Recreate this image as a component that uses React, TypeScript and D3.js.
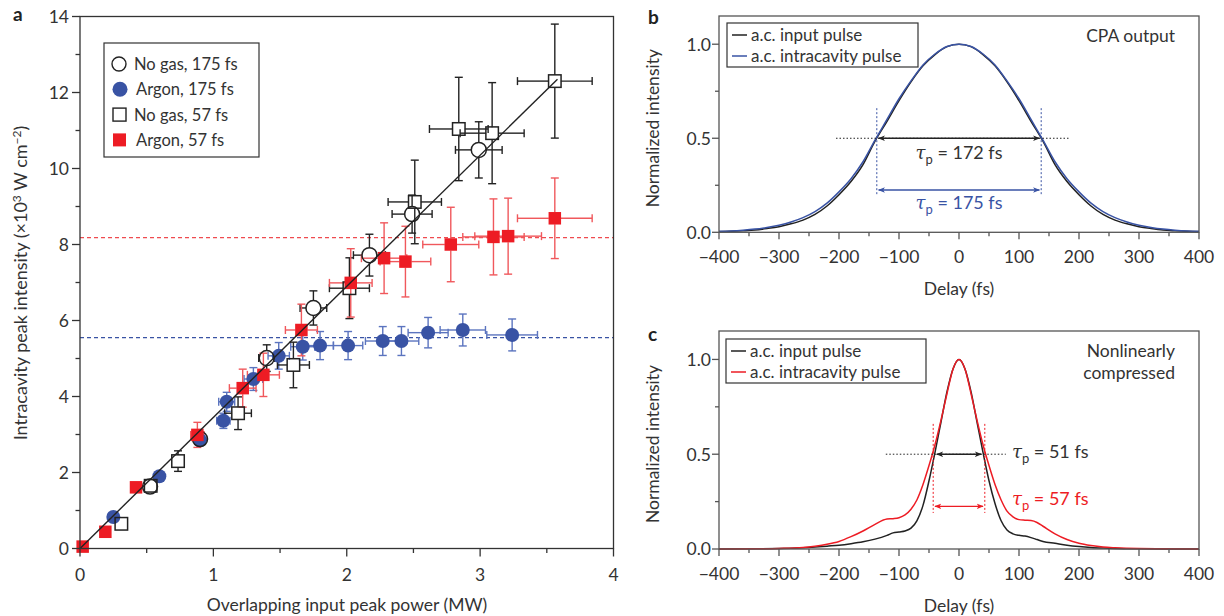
import React from 'react';
import * as d3 from 'd3';

// ---------- Panel a data ----------
const noGas175X = [0.525, 0.9, 1.40, 1.75, 2.17, 2.49, 2.99];
const noGas175Y = [1.63, 2.88, 5.01, 6.33, 7.72, 8.8, 10.49];
const noGas175XErr = [0.03, 0.04, 0.06, 0.1, 0.12, 0.15, 0.175];
const noGas175YErr = [0.08, 0.15, 0.35, 0.45, 0.55, 0.5, 0.74];

const argon175X = [0.25, 0.595, 0.9, 1.075, 1.1, 1.3, 1.49, 1.67, 1.8, 2.01, 2.27, 2.41, 2.61, 2.87, 3.24];
const argon175Y = [0.83, 1.9, 2.85, 3.36, 3.86, 4.46, 5.07, 5.31, 5.34, 5.34, 5.46, 5.46, 5.68, 5.75, 5.62];
const argon175XErr = [0.02, 0.03, 0.04, 0.05, 0.06, 0.07, 0.08, 0.09, 0.1, 0.11, 0.13, 0.13, 0.15, 0.17, 0.19];
const argon175YErr = [0.05, 0.08, 0.15, 0.2, 0.25, 0.3, 0.35, 0.35, 0.37, 0.37, 0.38, 0.38, 0.4, 0.42, 0.42];

const noGas57X = [0.31, 0.53, 0.735, 1.185, 1.6, 2.02, 2.51, 2.84, 3.09, 3.56];
const noGas57Y = [0.65, 1.65, 2.3, 3.56, 4.83, 6.85, 9.12, 11.04, 10.93, 12.3];
const noGas57XErr = [0.03, 0.03, 0.03, 0.1, 0.12, 0.15, 0.2, 0.22, 0.24, 0.28];
const noGas57YErr = [0.1, 0.1, 0.27, 0.43, 0.6, 0.8, 1.1, 1.36, 1.33, 1.5];

const argon57X = [0.02, 0.19, 0.42, 0.88, 1.22, 1.375, 1.66, 2.03, 2.28, 2.44, 2.78, 3.1, 3.21, 3.56];
const argon57Y = [0.05, 0.44, 1.61, 2.99, 4.22, 4.57, 5.75, 6.99, 7.64, 7.55, 8.0, 8.2, 8.22, 8.69];
const argon57XErr = [0.01, 0.02, 0.03, 0.05, 0.1, 0.12, 0.12, 0.16, 0.17, 0.19, 0.21, 0.23, 0.25, 0.28];
const argon57YErr = [0.03, 0.05, 0.15, 0.33, 0.5, 0.57, 0.68, 0.9, 0.93, 0.93, 0.98, 1.0, 1.0, 1.06];

const fitX = [0, 3.58];
const fitY = [0, 12.35];
const argon175Level = 5.55;
const argon57Level = 8.18;

const aXTicks = [0, 1, 2, 3, 4];
const aYTicks = [0, 2, 4, 6, 8, 10, 12, 14];
const legendA = ['No gas, 175 fs', 'Argon, 175 fs', 'No gas, 57 fs', 'Argon, 57 fs'];

// ---------- Panel b data ----------
const delayB = [-400, -380, -360, -340, -320, -300, -280, -260, -240, -220, -200, -180, -160, -140, -120, -100, -80, -60, -40, -20, 0,
  20, 40, 60, 80, 100, 120, 140, 160, 180, 200, 220, 240, 260, 280, 300, 320, 340, 360, 380, 400];
const inputB = [0.003, 0.005, 0.008, 0.012, 0.02, 0.03, 0.045, 0.065, 0.095, 0.14, 0.2, 0.27, 0.36, 0.485, 0.59, 0.7, 0.8, 0.885, 0.945, 0.987, 1.0,
  0.987, 0.945, 0.885, 0.8, 0.7, 0.59, 0.485, 0.36, 0.27, 0.2, 0.14, 0.095, 0.065, 0.045, 0.03, 0.02, 0.012, 0.008, 0.005, 0.003];
const intraB = [0.005, 0.007, 0.011, 0.017, 0.026, 0.038, 0.055, 0.078, 0.11, 0.155, 0.215, 0.285, 0.375, 0.49, 0.6, 0.71, 0.805, 0.89, 0.948, 0.988, 1.0,
  0.988, 0.948, 0.89, 0.805, 0.71, 0.6, 0.49, 0.375, 0.285, 0.215, 0.155, 0.11, 0.078, 0.055, 0.038, 0.026, 0.017, 0.011, 0.007, 0.005];

// ---------- Panel c data ----------
const delayC = [-400, -340, -300, -260, -240, -220, -200, -180, -160, -140, -120, -110, -100, -90, -80, -70, -60, -50, -40, -30, -20, -10, 0,
  10, 20, 30, 40, 50, 60, 70, 80, 90, 100, 110, 120, 130, 140, 160, 180, 200, 220, 240, 260, 300, 340, 400];
const inputC = [0, 0.001, 0.002, 0.006, 0.01, 0.015, 0.02, 0.028, 0.038, 0.052, 0.072, 0.085, 0.09, 0.095, 0.11, 0.15, 0.23, 0.36, 0.51, 0.67, 0.83, 0.95, 1.0,
  0.95, 0.83, 0.67, 0.51, 0.36, 0.24, 0.15, 0.1, 0.08, 0.072, 0.068, 0.06, 0.05, 0.04, 0.03, 0.02, 0.013, 0.008, 0.005, 0.003, 0.001, 0, 0];
const intraC = [0, 0.001, 0.003, 0.008, 0.015, 0.025, 0.04, 0.065, 0.095, 0.13, 0.158, 0.16, 0.165, 0.18, 0.21, 0.26, 0.34, 0.44, 0.55, 0.68, 0.82, 0.95, 1.0,
  0.95, 0.82, 0.68, 0.55, 0.44, 0.34, 0.26, 0.2, 0.17, 0.155, 0.152, 0.15, 0.14, 0.12, 0.08, 0.05, 0.03, 0.018, 0.01, 0.006, 0.002, 0.001, 0];

const delayTicks = [-400, -300, -200, -100, 0, 100, 200, 300, 400];
const delayMinor = [-350, -250, -150, -50, 50, 150, 250, 350];
const intensityTicks = [0, 0.5, 1.0];
const intensityMinor = [0.25, 0.75];

const FONT = "Lato, 'Open Sans', sans-serif";
const BLUE = '#3953a4';
const BLUE_ERR = '#5b74bf';
const RED = '#ed1c24';
const RED_ERR = '#f0585c';
const BLACK = '#222';
const TEXT = '#333';

type Series = { x: number[]; y: number[]; xe: number[]; ye: number[] };

function ErrorBars({ s, xs, ys, color, gap }: { s: Series; xs: any; ys: any; color: string; gap: number }) {
  const cap = 4;
  return (
    <g stroke={color} strokeWidth={1.4} fill="none">
      {s.x.map((xv, i) => {
        const cx = xs(xv), cy = ys(s.y[i]);
        const x0 = xs(xv - s.xe[i]), x1 = xs(xv + s.xe[i]);
        const y0 = ys(s.y[i] + s.ye[i]), y1 = ys(s.y[i] - s.ye[i]);
        const segs: JSX.Element[] = [];
        if (cx - x0 > gap) {
          segs.push(<line key="l" x1={x0} x2={cx - gap} y1={cy} y2={cy} />);
          segs.push(<line key="r" x1={cx + gap} x2={x1} y1={cy} y2={cy} />);
          segs.push(<line key="lc" x1={x0} x2={x0} y1={cy - cap} y2={cy + cap} />);
          segs.push(<line key="rc" x1={x1} x2={x1} y1={cy - cap} y2={cy + cap} />);
        }
        if (cy - y0 > gap) {
          segs.push(<line key="t" x1={cx} x2={cx} y1={y0} y2={cy - gap} />);
          segs.push(<line key="b" x1={cx} x2={cx} y1={cy + gap} y2={y1} />);
          segs.push(<line key="tc" x1={cx - cap} x2={cx + cap} y1={y0} y2={y0} />);
          segs.push(<line key="bc" x1={cx - cap} x2={cx + cap} y1={y1} y2={y1} />);
        }
        return <g key={i}>{segs}</g>;
      })}
    </g>
  );
}

function Tau({ x, y, rest, color, anchor }: { x: number; y: number; rest: string; color: string; anchor?: string }) {
  return (
    <text x={x} y={y} fill={color} fontSize={18} fontFamily={FONT} textAnchor={anchor || 'start'}>
      <tspan fontStyle="italic" fontFamily="'DejaVu Serif', serif">τ</tspan>
      <tspan dy={5} fontSize={13}>p</tspan>
      <tspan dy={-5}>{rest}</tspan>
    </text>
  );
}

function PanelA() {
  const xs = d3.scaleLinear().domain([0, 4]).range([80, 613.5]);
  const ys = d3.scaleLinear().domain([0, 14]).range([548.5, 16.5]);
  const noGas175: Series = { x: noGas175X, y: noGas175Y, xe: noGas175XErr, ye: noGas175YErr };
  const argon175: Series = { x: argon175X, y: argon175Y, xe: argon175XErr, ye: argon175YErr };
  const noGas57: Series = { x: noGas57X, y: noGas57Y, xe: noGas57XErr, ye: noGas57YErr };
  const argon57: Series = { x: argon57X, y: argon57Y, xe: argon57XErr, ye: argon57YErr };
  const fitLine = d3.line<number>().x((d, i) => xs(fitX[i])).y((d) => ys(d));
  const [x0, x1] = xs.range();
  const [y0, y1] = ys.range();
  const yMinor = d3.range(1, 14, 2);
  const xMinor = [0.5, 1.5, 2.5, 3.5];
  const sq = 12.5;
  return (
    <g fontFamily={FONT}>
      <line x1={x0} x2={x1} y1={ys(argon57Level)} y2={ys(argon57Level)} stroke="#ef4b4f" strokeWidth={1.3} strokeDasharray="4,3" />
      <line x1={x0} x2={x1} y1={ys(argon175Level)} y2={ys(argon175Level)} stroke={BLUE} strokeWidth={1.3} strokeDasharray="4,3" />
      <ErrorBars s={argon175} xs={xs} ys={ys} color={BLUE_ERR} gap={6} />
      <ErrorBars s={noGas175} xs={xs} ys={ys} color={BLACK} gap={7} />
      <ErrorBars s={noGas57} xs={xs} ys={ys} color={BLACK} gap={6} />
      <ErrorBars s={argon57} xs={xs} ys={ys} color={RED_ERR} gap={6} />
      {argon175X.map((v, i) => (
        <circle key={'b' + i} cx={xs(v)} cy={ys(argon175Y[i])} r={7} fill={BLUE} />
      ))}
      {noGas57X.map((v, i) => (
        <rect key={'s' + i} x={xs(v) - sq / 2} y={ys(noGas57Y[i]) - sq / 2} width={sq} height={sq} fill="none" stroke={BLACK} strokeWidth={1.5} />
      ))}
      {noGas175X.map((v, i) => (
        <circle key={'o' + i} cx={xs(v)} cy={ys(noGas175Y[i])} r={7.5} fill="none" stroke={BLACK} strokeWidth={1.5} />
      ))}
      {argon57X.map((v, i) => (
        <rect key={'r' + i} x={xs(v) - sq / 2} y={ys(argon57Y[i]) - sq / 2} width={sq} height={sq} fill={RED} />
      ))}
      <path d={fitLine(fitY) || ''} stroke={BLACK} strokeWidth={1.4} fill="none" />
      <rect x={x0} y={y1} width={x1 - x0} height={y0 - y1} fill="none" stroke="#333" strokeWidth={1.3} />
      {aYTicks.map((t) => (
        <g key={'yt' + t}>
          <line x1={x0 - 8} x2={x0} y1={ys(t)} y2={ys(t)} stroke="#333" strokeWidth={1.3} />
          <text x={x0 - 11} y={ys(t)} dy="0.36em" textAnchor="end" fontSize={17.5} fill={TEXT}>{t}</text>
        </g>
      ))}
      {yMinor.map((t) => (
        <line key={'ym' + t} x1={x0 - 4.5} x2={x0} y1={ys(t)} y2={ys(t)} stroke="#333" strokeWidth={1.3} />
      ))}
      {aXTicks.map((t) => (
        <g key={'xt' + t}>
          <line x1={xs(t)} x2={xs(t)} y1={y0} y2={y0 + 8} stroke="#333" strokeWidth={1.3} />
          <text x={xs(t)} y={581} textAnchor="middle" fontSize={17.5} fill={TEXT}>{t}</text>
        </g>
      ))}
      {xMinor.map((t) => (
        <line key={'xm' + t} x1={xs(t)} x2={xs(t)} y1={y0} y2={y0 + 4.5} stroke="#333" strokeWidth={1.3} />
      ))}
      <text x={347} y={611} textAnchor="middle" fontSize={17.5} fill={TEXT}>Overlapping input peak power (MW)</text>
      <text transform="translate(27,283) rotate(-90)" textAnchor="middle" fontSize={18} fill={TEXT}>
        Intracavity peak intensity (×10<tspan dy={-6} fontSize={12}>3</tspan><tspan dy={6}> W cm</tspan><tspan dy={-6} fontSize={12}>−2</tspan><tspan dy={6}>)</tspan>
      </text>
      <text x={13} y={21} fontSize={19} fontWeight="bold" fill="#222">a</text>
      <rect x={104} y={43} width={155} height={114} fill="white" stroke="#333" strokeWidth={1.2} />
      {legendA.map((lab, i) => {
        const cy = 64 + i * 25.3;
        return (
          <g key={'lg' + i}>
            {i === 0 && <circle cx={119} cy={cy} r={7} fill="none" stroke={BLACK} strokeWidth={1.4} />}
            {i === 1 && <circle cx={120} cy={cy} r={7.5} fill={BLUE} />}
            {i === 2 && <rect x={113} y={cy - 6.5} width={13} height={13} fill="none" stroke={BLACK} strokeWidth={1.4} />}
            {i === 3 && <rect x={113} y={cy - 6.5} width={13} height={13} fill={RED} />}
            <text x={i % 2 === 1 ? 136 : 134} y={cy} dy="0.36em" fontSize={16.5} fill={TEXT}>{lab}</text>
          </g>
        );
      })}
    </g>
  );
}

function PulsePanel({ top, bottom, delays, inp, intra, color, legendTop, legendLeft, legendW, corner, label, labelY, ann }: any) {
  const xs = d3.scaleLinear().domain([-400, 400]).range([719, 1199]);
  const ys = d3.scaleLinear().domain([0, 1.15]).range([bottom, top]);
  const line = d3.line<number>().x((d, i) => xs(delays[i])).y((d) => ys(d)).curve(d3.curveMonotoneX);
  const [x0, x1] = xs.range();
  const frame = '#555';
  return (
    <g fontFamily={FONT}>
      <defs>
        <marker id={'ah' + label} viewBox="0 0 10 10" refX={9} refY={5} markerWidth={7} markerHeight={7} orient="auto-start-reverse" markerUnits="userSpaceOnUse">
          <path d="M0,1 L10,5 L0,9 L2.5,5 Z" fill={BLACK} />
        </marker>
        <marker id={'ahc' + label} viewBox="0 0 10 10" refX={9} refY={5} markerWidth={7} markerHeight={7} orient="auto-start-reverse" markerUnits="userSpaceOnUse">
          <path d="M0,1 L10,5 L0,9 L2.5,5 Z" fill={color} />
        </marker>
      </defs>
      <path d={line(inp) || ''} stroke={BLACK} strokeWidth={1.5} fill="none" />
      <path d={line(intra) || ''} stroke={color} strokeWidth={1.5} fill="none" />
      <line x1={xs(ann.dotFrom)} x2={xs(ann.dotTo)} y1={ys(0.5)} y2={ys(0.5)} stroke={BLACK} strokeWidth={1} strokeDasharray="1.5,2" />
      <line x1={xs(-ann.blackHalf)} x2={xs(ann.blackHalf)} y1={ys(0.5)} y2={ys(0.5)} stroke={BLACK} strokeWidth={1.4}
        markerStart={`url(#ah${label})`} markerEnd={`url(#ah${label})`} />
      {[-ann.vx, ann.vx].map((v: number) => (
        <line key={v} x1={xs(v)} x2={xs(v)} y1={ys(ann.vTop)} y2={ys(ann.vBot)} stroke={color} strokeWidth={1} strokeDasharray="2,2" />
      ))}
      <line x1={xs(-ann.colorHalf)} x2={xs(ann.colorHalf)} y1={ys(ann.colorY)} y2={ys(ann.colorY)} stroke={color} strokeWidth={1.4}
        markerStart={`url(#ahc${label})`} markerEnd={`url(#ahc${label})`} />
      <Tau x={ann.t1x} y={ann.t1y} rest={ann.t1} color={TEXT} anchor={ann.anchor} />
      <Tau x={ann.t2x} y={ann.t2y} rest={ann.t2} color={color} anchor={ann.anchor} />
      <rect x={x0} y={top} width={x1 - x0} height={bottom - top} fill="none" stroke={frame} strokeWidth={1.3} />
      {delayTicks.map((t) => (
        <g key={'x' + t}>
          <line x1={xs(t)} x2={xs(t)} y1={bottom} y2={bottom + 7} stroke={frame} strokeWidth={1.3} />
          <text x={xs(t)} y={bottom + 31} textAnchor="middle" fontSize={17.5} fill={TEXT}>{t < 0 ? '−' + Math.abs(t) : t}</text>
        </g>
      ))}
      {delayMinor.map((t) => (
        <line key={'xm' + t} x1={xs(t)} x2={xs(t)} y1={bottom} y2={bottom + 4} stroke={frame} strokeWidth={1.3} />
      ))}
      {intensityTicks.map((t) => (
        <g key={'y' + t}>
          <line x1={x0 - 7} x2={x0} y1={ys(t)} y2={ys(t)} stroke={frame} strokeWidth={1.3} />
          <text x={x0 - 8} y={ys(t)} dy="0.36em" textAnchor="end" fontSize={17.5} fill={TEXT}>{t.toFixed(1)}</text>
        </g>
      ))}
      {intensityMinor.map((t) => (
        <line key={'ym' + t} x1={x0 - 4} x2={x0} y1={ys(t)} y2={ys(t)} stroke={frame} strokeWidth={1.3} />
      ))}
      <text x={959} y={bottom + 63} textAnchor="middle" fontSize={17.5} fill={TEXT}>Delay (fs)</text>
      <text transform={`translate(659,${(top + bottom) / 2 + 4}) rotate(-90)`} textAnchor="middle" fontSize={17.5} fill={TEXT}>Normalized intensity</text>
      <text x={648} y={labelY} fontSize={19} fontWeight="bold" fill="#222">{label}</text>
      <rect x={legendLeft} y={legendTop} width={legendW} height={44} fill="white" stroke="#333" strokeWidth={1.2} />
      <line x1={legendLeft + 5} x2={legendLeft + 20} y1={legendTop + 12} y2={legendTop + 12} stroke={BLACK} strokeWidth={1.5} />
      <line x1={legendLeft + 5} x2={legendLeft + 20} y1={legendTop + 33} y2={legendTop + 33} stroke={color} strokeWidth={1.5} />
      <text x={legendLeft + 24} y={legendTop + 12} dy="0.36em" fontSize={17} fill={TEXT}>a.c. input pulse</text>
      <text x={legendLeft + 24} y={legendTop + 33} dy="0.36em" fontSize={17} fill={TEXT}>a.c. intracavity pulse</text>
      {corner.map((c: string, i: number) => (
        <text key={c} x={1175} y={top + 26 + i * 22} textAnchor="end" fontSize={17.5} fill={TEXT}>{c}</text>
      ))}
    </g>
  );
}

export default function App() {
  return (
    <svg width={1224} height={616} style={{ position: 'absolute', left: 0, top: 0, background: 'white' }}>
      <rect x={0} y={0} width={1224} height={616} fill="white" />
      <PanelA />
      <PulsePanel top={16} bottom={232.3} delays={delayB} inp={inputB} intra={intraB} color={BLUE}
        legendTop={23} legendLeft={727} legendW={191} corner={['CPA output']} label="b" labelY={24}
        ann={{ dotFrom: -205, dotTo: 183, blackHalf: 134, vx: 137, vTop: 0.66, vBot: 0.2, colorHalf: 134, colorY: 0.225,
          t1x: 959, t1y: 159, t1: ' = 172 fs', t2x: 959, t2y: 209, t2: ' = 175 fs', anchor: 'middle' }} />
      <PulsePanel top={331} bottom={549} delays={delayC} inp={inputC} intra={intraC} color={RED}
        legendTop={339} legendLeft={726} legendW={200} corner={['Nonlinearly', 'compressed']} label="c" labelY={341}
        ann={{ dotFrom: -122, dotTo: 78, blackHalf: 37, vx: 43, vTop: 0.66, vBot: 0.19, colorHalf: 40, colorY: 0.225,
          t1x: 1012, t1y: 458, t1: ' = 51 fs', t2x: 1012, t2y: 505, t2: ' = 57 fs', anchor: 'start' }} />
    </svg>
  );
}
